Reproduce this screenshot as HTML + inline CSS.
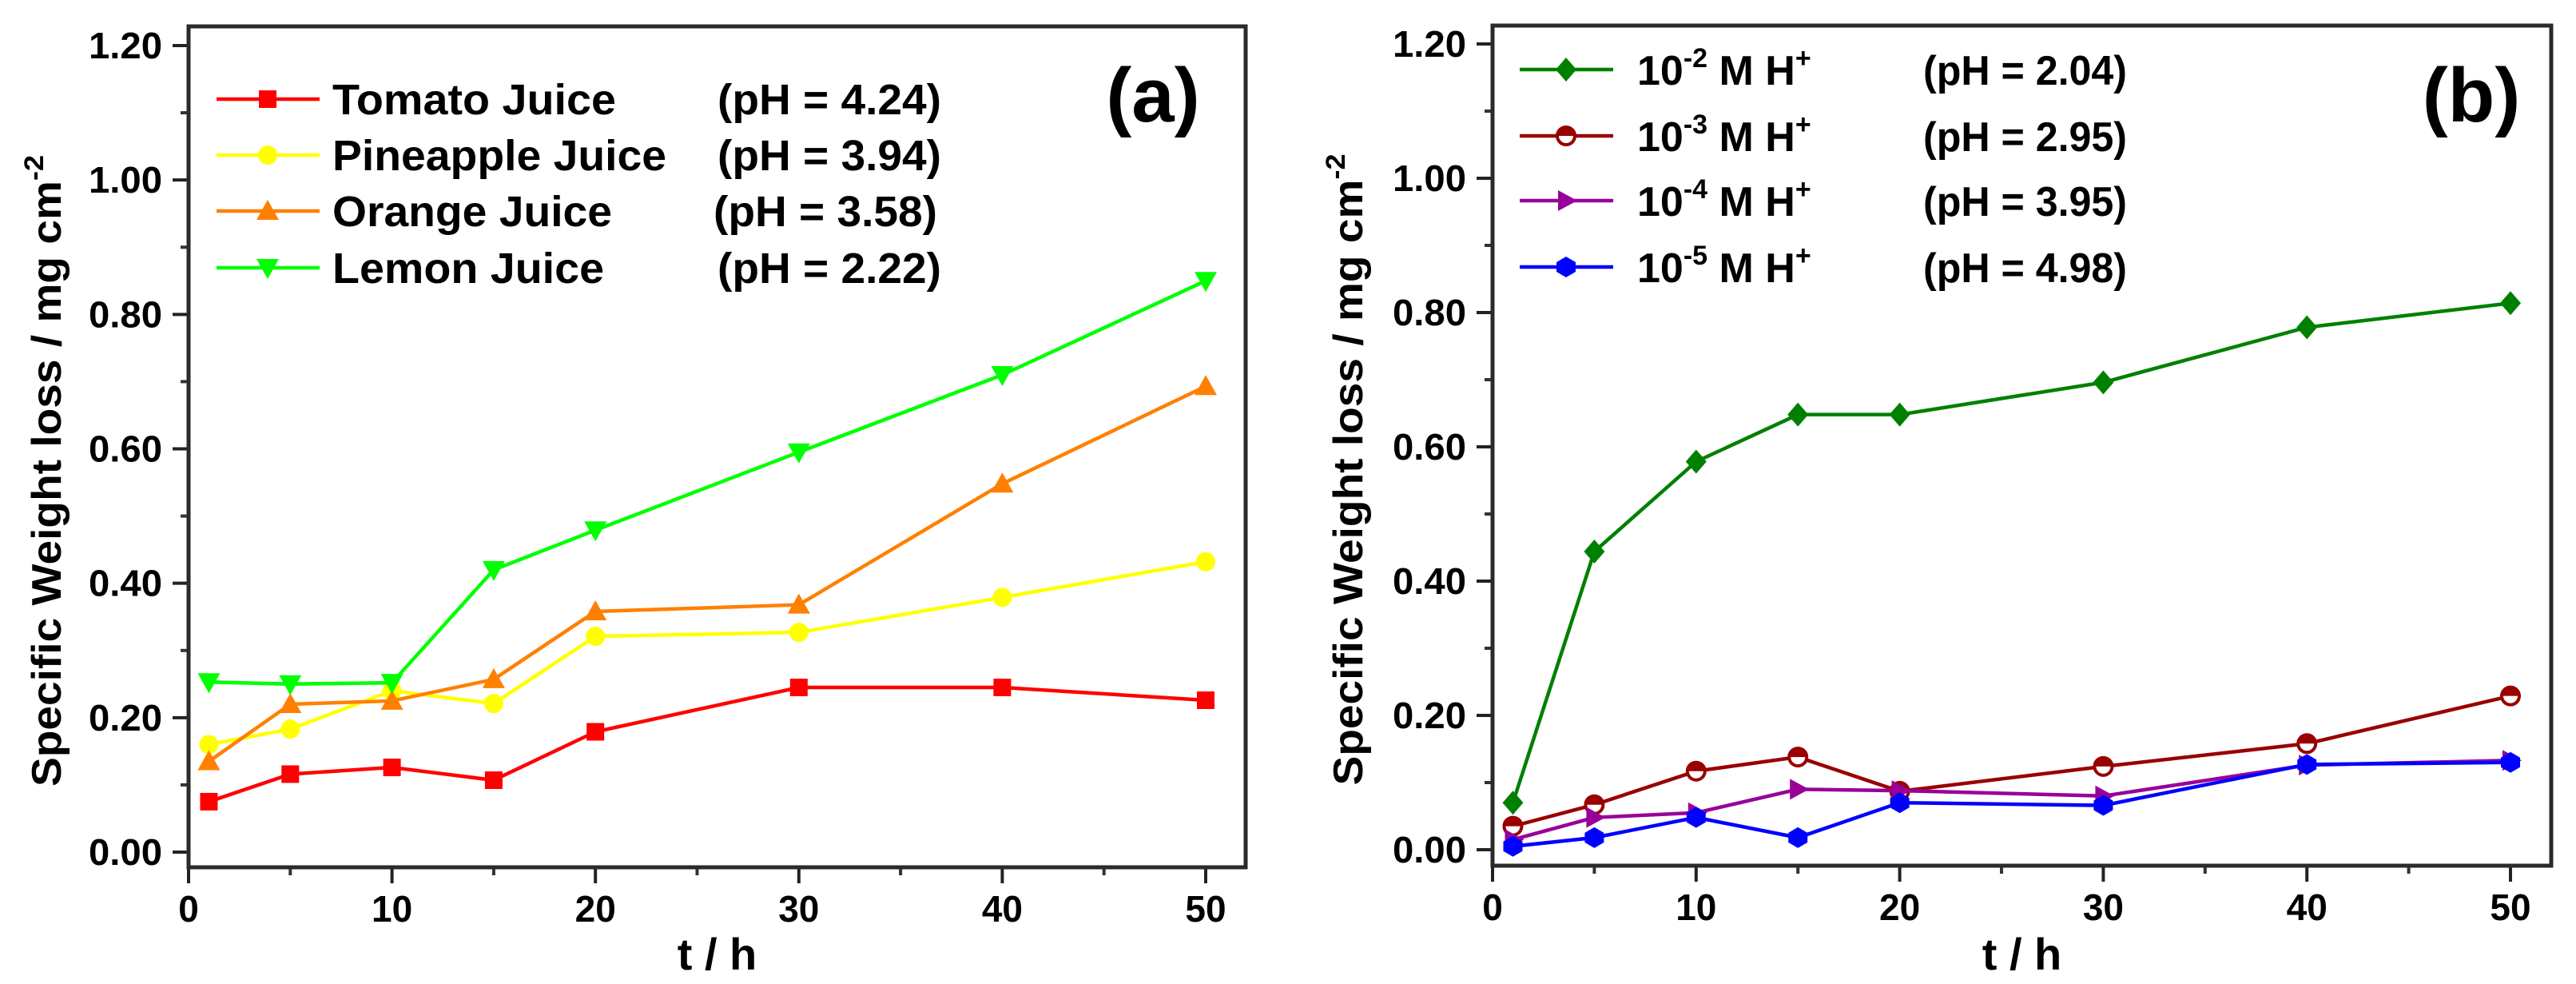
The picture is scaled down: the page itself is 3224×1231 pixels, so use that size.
<!DOCTYPE html>
<html><head><meta charset="utf-8"><style>
html,body{margin:0;padding:0;background:#fff;}
svg{display:block;font-family:"Liberation Sans",sans-serif;font-weight:bold;}
</style></head><body>
<svg id="fig" width="3224" height="1231" viewBox="0 0 3224 1231" xmlns="http://www.w3.org/2000/svg"></svg>
<script>
const hours = [1, 5, 10, 15, 20, 30, 40, 50];
const xTicks = [0, 10, 20, 30, 40, 50];
const yTicks = [0, 0.2, 0.4, 0.6, 0.8, 1.0, 1.2];
const yTickLabels = ["0.00", "0.20", "0.40", "0.60", "0.80", "1.00", "1.20"];
const tomato = [0.075, 0.116, 0.126, 0.107, 0.179, 0.245, 0.245, 0.226];
const pineapple = [0.160, 0.183, 0.240, 0.221, 0.321, 0.327, 0.379, 0.432];
const orange = [0.135, 0.220, 0.225, 0.257, 0.358, 0.368, 0.548, 0.693];
const lemon = [0.253, 0.250, 0.252, 0.420, 0.479, 0.595, 0.710, 0.850];
const h2 = [0.070, 0.444, 0.578, 0.648, 0.648, 0.696, 0.778, 0.814];
const h3 = [0.035, 0.067, 0.117, 0.138, 0.087, 0.124, 0.158, 0.229];
const h4 = [0.015, 0.048, 0.055, 0.090, 0.088, 0.080, 0.126, 0.133];
const h5 = [0.005, 0.018, 0.048, 0.018, 0.070, 0.066, 0.127, 0.130];
const namesA = ["Tomato Juice", "Pineapple Juice", "Orange Juice", "Lemon Juice"];
const phA = ["(pH = 4.24)", "(pH = 3.94)", "(pH = 3.58)", "(pH = 2.22)"];
const expB = ["-2", "-3", "-4", "-5"];
const phB = ["(pH = 2.04)", "(pH = 2.95)", "(pH = 3.95)", "(pH = 4.98)"];

const NS = "http://www.w3.org/2000/svg";
const svg = document.getElementById("fig");
function mk(tag, attrs, parent) {
  const e = document.createElementNS(NS, tag);
  for (const k in attrs) e.setAttribute(k, attrs[k]);
  (parent || svg).appendChild(e);
  return e;
}
function marker(g, type, x, y, color) {
  let m;
  if (type === "square") m = mk("rect", {x: x-11, y: y-11, width: 22, height: 22, fill: color}, g);
  else if (type === "circle") m = mk("circle", {cx: x, cy: y, r: 12, fill: color}, g);
  else if (type === "up") m = mk("polygon", {points: `${x},${y-14} ${x-14},${y+11} ${x+14},${y+11}`, fill: color}, g);
  else if (type === "down") m = mk("polygon", {points: `${x},${y+14} ${x-14},${y-11} ${x+14},${y-11}`, fill: color}, g);
  else if (type === "diamond") m = mk("polygon", {points: `${x},${y-15} ${x+13},${y} ${x},${y+15} ${x-13},${y}`, fill: color}, g);
  else if (type === "right") m = mk("polygon", {points: `${x+14},${y} ${x-10},${y-13} ${x-10},${y+13}`, fill: color}, g);
  else if (type === "hex") m = mk("polygon", {points: `${x},${y-13} ${x+12},${y-6} ${x+12},${y+6} ${x},${y+13} ${x-12},${y+6} ${x-12},${y-6}`, fill: color}, g);
  else if (type === "half") {
    m = mk("g", {}, g);
    mk("circle", {cx: x, cy: y, r: 11, fill: "#fff", stroke: color, "stroke-width": 4}, m);
    mk("path", {d: `M${x-11},${y} A11,11 0 0 1 ${x+11},${y} Z`, fill: color}, m);
  }
  
  
}
function drawChart(cfg) {
  const g = mk("g", {});
  
  
  const X = v => cfg.x0 + (cfg.x50 - cfg.x0) * v / 50;
  const Y = v => cfg.y0 + (cfg.y12 - cfg.y0) * v / 1.2;
  // minor ticks
  for (let v = 5; v < 55; v += 10) mk("line", {x1: X(v), x2: X(v), y1: cfg.bot, y2: cfg.bot + 10, stroke: "#333", "stroke-width": 4}, g);
  for (let i = 0; i < 6; i++) { const v = 0.1 + i * 0.2; mk("line", {x1: cfg.x0 - 10, x2: cfg.x0, y1: Y(v), y2: Y(v), stroke: "#333", "stroke-width": 4}, g); }
  xTicks.forEach(v => {
    mk("line", {x1: X(v), x2: X(v), y1: cfg.bot, y2: cfg.bot + 20, stroke: "#222", "stroke-width": 4}, g);
    const t = mk("text", {x: X(v), y: cfg.bot + 68, "font-size": 46, "text-anchor": "middle"}, g);
    t.textContent = v;
    
    
  });
  yTicks.forEach((v, i) => {
    mk("line", {x1: cfg.x0 - 20, x2: cfg.x0, y1: Y(v), y2: Y(v), stroke: "#222", "stroke-width": 4}, g);
    const t = mk("text", {x: cfg.x0 - 33, y: Y(v) + 16, "font-size": 46, "text-anchor": "end", textLength: 92, lengthAdjust: "spacingAndGlyphs"}, g);
    t.textContent = yTickLabels[i];
    
    
  });
  const frame = mk("rect", {x: cfg.x0, y: cfg.top, width: cfg.right - cfg.x0, height: cfg.bot - cfg.top, fill: "none", stroke: "#2a2a2a", "stroke-width": 5}, g);
  
  
  cfg.series.forEach(s => {
    const pts = hours.map((h, i) => X(h) + "," + Y(s.vals[i])).join(" ");
    const pl = mk("polyline", {points: pts, fill: "none", stroke: s.color, "stroke-width": 4.5}, g);
    
    
    hours.forEach((h, i) => marker(g, s.marker, X(h), Y(s.vals[i]), s.color));
  });
  // y title
  const yt = mk("text", {transform: `translate(${cfg.ytx},${(cfg.top + cfg.bot) / 2 + 30}) rotate(-90)`, "font-size": 52, "text-anchor": "middle", textLength: 790, lengthAdjust: "spacingAndGlyphs"}, g);
  yt.innerHTML = 'Specific Weight loss / mg cm<tspan dy="-22" font-size="34">-2</tspan>';
  
  
  const xt = mk("text", {x: (cfg.x0 + cfg.right) / 2, y: 1213, "font-size": 56, "text-anchor": "middle"}, g);
  xt.textContent = "t / h";
  
  
  const pl = mk("text", {x: cfg.panelX, y: 152, "font-size": 96, "text-anchor": "middle"}, g);
  pl.textContent = cfg.panel;
  
  
  return {X, Y, g};
}
const A = drawChart({name: "chart-a", panel: "(a)", panelX: 1443, x0: 236, x50: 1509, right: 1559, top: 33, bot: 1085, y0: 1066, y12: 57, ytx: 76,
  series: [
    {id: "tomato", vals: tomato, color: "#ff0000", marker: "square"},
    {id: "pineapple", vals: pineapple, color: "#ffff00", marker: "circle"},
    {id: "orange", vals: orange, color: "#ff8000", marker: "up"},
    {id: "lemon", vals: lemon, color: "#00ff00", marker: "down"}]});
const B = drawChart({name: "chart-b", panel: "(b)", panelX: 3093, x0: 1868, x50: 3142, right: 3193, top: 32, bot: 1083, y0: 1063, y12: 55, ytx: 1705,
  series: [
    {id: "h-2", vals: h2, color: "#008000", marker: "diamond"},
    {id: "h-3", vals: h3, color: "#990000", marker: "half"},
    {id: "h-4", vals: h4, color: "#990099", marker: "right"},
    {id: "h-5", vals: h5, color: "#0000ff", marker: "hex"}]});
// legend a
const colA = ["#ff0000", "#ffff00", "#ff8000", "#00ff00"], mA = ["square", "circle", "up", "down"];
const rowsA = [124, 194, 264, 335];
namesA.forEach((n, i) => {
  const g = mk("g", {});
  
  
  mk("line", {x1: 271, x2: 400, y1: rowsA[i], y2: rowsA[i], stroke: colA[i], "stroke-width": 4.5}, g);
  marker(g, mA[i], 335, rowsA[i], colA[i]);
  const t = mk("text", {x: 416, y: rowsA[i] + 19, "font-size": 54, textLength: [355, 418, 350, 340][i], lengthAdjust: "spacingAndGlyphs"}, g);
  t.textContent = n;
  const p = mk("text", {x: [898, 898, 893, 898][i], y: rowsA[i] + 19, "font-size": 54, textLength: 280, lengthAdjust: "spacingAndGlyphs"}, g);
  p.textContent = phA[i];
});
const colB = ["#008000", "#990000", "#990099", "#0000ff"], mB = ["diamond", "half", "right", "hex"];
const rowsB = [87, 170, 251, 334];
expB.forEach((e, i) => {
  const g = mk("g", {});
  
  
  mk("line", {x1: 1902, x2: 2019, y1: rowsB[i], y2: rowsB[i], stroke: colB[i], "stroke-width": 4.5}, g);
  marker(g, mB[i], 1960, rowsB[i], colB[i]);
  const t = mk("text", {x: 2049, y: rowsB[i] + 19, "font-size": 52}, g);
  t.innerHTML = `10<tspan dy="-22" font-size="34">${e}</tspan><tspan dy="22"> M  H</tspan><tspan dy="-22" font-size="34">+</tspan>`;
  t.setAttribute('xml:space', 'preserve');
  const p = mk("text", {x: 2407, y: rowsB[i] + 19, "font-size": 52, textLength: 255, lengthAdjust: "spacingAndGlyphs"}, g);
  p.textContent = phB[i];
});
</script>
</body></html>
